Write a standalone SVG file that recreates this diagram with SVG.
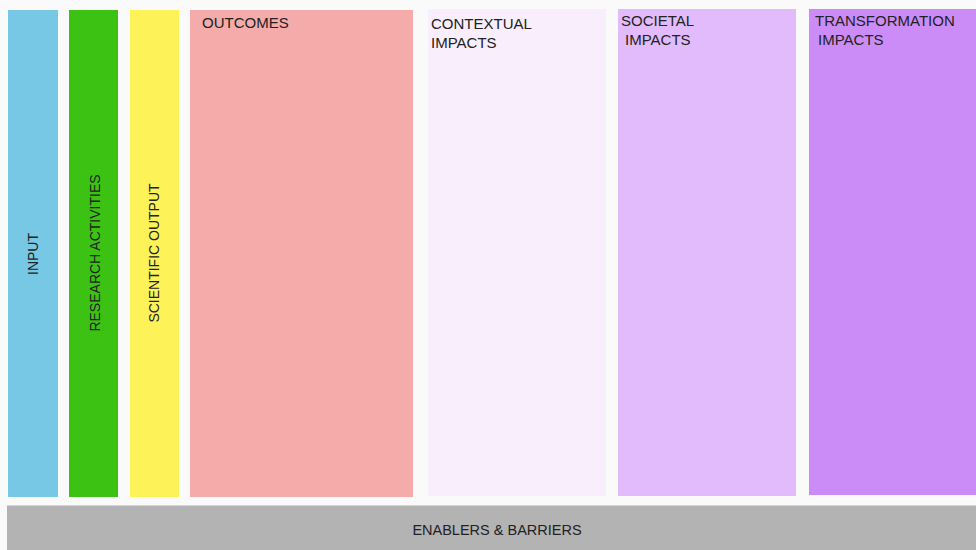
<svg xmlns="http://www.w3.org/2000/svg" width="976" height="550" viewBox="0 0 976 550">
  <style>
    .lbl { font-family: "Liberation Sans", Arial, sans-serif; font-size: 15px; fill: #222; }
    .vlbl { font-family: "Liberation Sans", Arial, sans-serif; font-size: 14px; fill: #222; text-anchor: middle; dominant-baseline: central; }
    .blbl { font-family: "Liberation Sans", Arial, sans-serif; font-size: 14.5px; fill: #222; text-anchor: middle; }
  </style>
  <rect x="0" y="0" width="976" height="550" fill="#fafafa"/>
  <g id="input">
    <rect x="8" y="10" width="50" height="487" fill="#76c8e4"/>
    <text class="vlbl" transform="translate(33,254) rotate(-90)">INPUT</text>
  </g>
  <g id="research-activities">
    <rect x="69" y="10" width="49" height="487" fill="#3cc212"/>
    <text class="vlbl" transform="translate(95,253) rotate(-90)">RESEARCH ACTIVITIES</text>
  </g>
  <g id="scientific-output">
    <rect x="130" y="10" width="49" height="487" fill="#fdf358"/>
    <text class="vlbl" transform="translate(154,253) rotate(-90)">SCIENTIFIC OUTPUT</text>
  </g>
  <g id="outcomes">
    <rect x="190" y="10" width="223" height="487" fill="#f5abaa"/>
    <text class="lbl" x="202" y="28">OUTCOMES</text>
  </g>
  <g id="contextual-impacts">
    <rect x="428" y="9" width="178" height="487" fill="#f9eefc"/>
    <text class="lbl" x="431" y="29">CONTEXTUAL</text>
    <text class="lbl" x="431" y="48">IMPACTS</text>
  </g>
  <g id="societal-impacts">
    <rect x="618" y="9" width="178" height="487" fill="#e1bbfb"/>
    <text class="lbl" x="621" y="26">SOCIETAL</text>
    <text class="lbl" x="625" y="45">IMPACTS</text>
  </g>
  <g id="transformation-impacts">
    <rect x="809" y="9" width="167" height="486" fill="#cb8cf7"/>
    <text class="lbl" x="815" y="26">TRANSFORMATION</text>
    <text class="lbl" x="818" y="45">IMPACTS</text>
  </g>
  <g id="enablers-barriers">
    <rect x="7" y="505" width="969" height="45" fill="#b3b3b3"/>
    <line x1="7" y1="505.5" x2="976" y2="505.5" stroke="#d6d6d6" stroke-width="1"/>
    <text class="blbl" x="497" y="535">ENABLERS &amp; BARRIERS</text>
  </g>
  <g id="connectors"></g>
</svg>
